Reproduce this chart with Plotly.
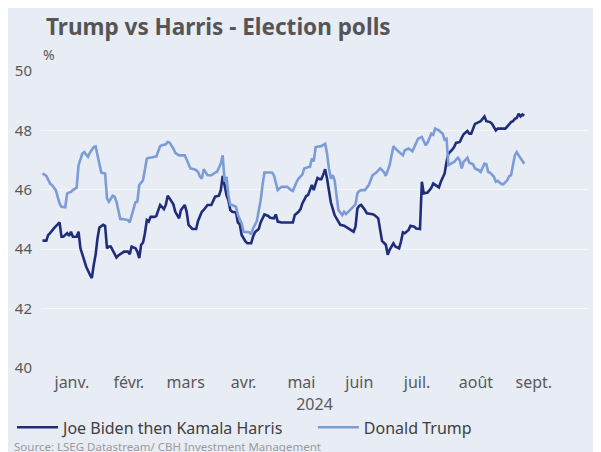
import plotly.graph_objects as go

# ---------------- data ----------------
biden_dates = [
    "2024-01-01", "2024-01-03", "2024-01-04", "2024-01-05", "2024-01-07", "2024-01-09", "2024-01-10",
    "2024-01-11", "2024-01-12", "2024-01-14", "2024-01-15", "2024-01-16", "2024-01-17", "2024-01-19",
    "2024-01-20", "2024-01-21", "2024-01-22", "2024-01-24", "2024-01-26", "2024-01-27", "2024-01-28",
    "2024-01-29", "2024-01-30", "2024-01-31", "2024-02-02", "2024-02-03", "2024-02-04", "2024-02-05",
    "2024-02-06", "2024-02-07", "2024-02-09", "2024-02-10", "2024-02-11", "2024-02-13", "2024-02-15",
    "2024-02-16", "2024-02-17", "2024-02-19", "2024-02-20", "2024-02-21", "2024-02-22", "2024-02-23",
    "2024-02-24", "2024-02-25", "2024-02-26", "2024-02-27", "2024-02-29", "2024-03-01", "2024-03-03",
    "2024-03-04", "2024-03-05", "2024-03-06", "2024-03-07", "2024-03-08", "2024-03-10", "2024-03-11",
    "2024-03-13", "2024-03-14", "2024-03-16", "2024-03-17", "2024-03-18", "2024-03-20", "2024-03-22",
    "2024-03-23", "2024-03-25", "2024-03-26", "2024-03-28", "2024-03-30", "2024-04-01", "2024-04-03",
    "2024-04-04", "2024-04-05", "2024-04-06", "2024-04-07", "2024-04-08", "2024-04-09", "2024-04-10",
    "2024-04-12", "2024-04-13", "2024-04-14", "2024-04-15", "2024-04-17", "2024-04-18", "2024-04-20",
    "2024-04-21", "2024-04-22", "2024-04-24", "2024-04-25", "2024-04-27", "2024-04-29", "2024-04-30",
    "2024-05-02", "2024-05-03", "2024-05-04", "2024-05-06", "2024-05-09", "2024-05-12", "2024-05-13",
    "2024-05-15", "2024-05-16", "2024-05-17", "2024-05-19", "2024-05-20", "2024-05-22", "2024-05-23",
    "2024-05-24", "2024-05-25", "2024-05-26", "2024-05-27", "2024-05-28", "2024-05-29", "2024-05-30",
    "2024-05-31", "2024-06-01", "2024-06-02", "2024-06-03", "2024-06-05", "2024-06-06", "2024-06-08",
    "2024-06-10", "2024-06-11", "2024-06-13", "2024-06-14", "2024-06-15", "2024-06-16", "2024-06-17",
    "2024-06-19", "2024-06-20", "2024-06-23", "2024-06-24", "2024-06-26", "2024-06-27", "2024-06-28",
    "2024-06-30", "2024-07-01", "2024-07-02", "2024-07-04", "2024-07-05", "2024-07-07", "2024-07-08",
    "2024-07-09", "2024-07-10", "2024-07-12", "2024-07-13", "2024-07-15", "2024-07-16", "2024-07-18",
    "2024-07-19", "2024-07-20", "2024-07-22", "2024-07-24", "2024-07-25", "2024-07-26", "2024-07-28",
    "2024-07-29", "2024-07-31", "2024-08-01", "2024-08-02", "2024-08-04", "2024-08-05", "2024-08-06",
    "2024-08-08", "2024-08-09", "2024-08-10", "2024-08-12", "2024-08-13", "2024-08-14", "2024-08-15",
    "2024-08-16", "2024-08-18", "2024-08-19", "2024-08-20", "2024-08-21", "2024-08-22", "2024-08-24",
    "2024-08-25", "2024-08-26", "2024-08-27", "2024-08-28", "2024-08-30", "2024-09-01", "2024-09-03",
    "2024-09-04", "2024-09-05", "2024-09-06", "2024-09-07", "2024-09-08", "2024-09-09", "2024-09-10",
    "2024-09-11",
]
biden_values = [
    44.29, 44.29, 44.48, 44.54, 44.70, 44.84, 44.90,
    44.42, 44.42, 44.54, 44.45, 44.59, 44.42, 44.42,
    44.59, 44.03, 43.81, 43.42, 43.14, 43.03, 43.47,
    43.81, 44.37, 44.73, 44.82, 44.79, 44.03, 44.09,
    44.09, 43.98, 43.72, 43.79, 43.83, 43.92, 43.92,
    43.83, 44.09, 44.03, 43.92, 43.70, 44.15, 44.22,
    44.54, 44.98, 44.93, 45.09, 45.09, 45.12, 45.49,
    45.43, 45.35, 45.49, 45.80, 45.71, 45.51, 45.26,
    45.04, 45.32, 45.49, 45.26, 44.82, 44.68, 44.68,
    44.95, 45.26, 45.32, 45.49, 45.49, 45.77, 45.80,
    45.99, 46.47, 46.10, 45.82, 45.65, 45.32, 45.26,
    45.24, 44.90, 44.84, 44.48, 44.26, 44.20, 44.20,
    44.42, 44.57, 44.68, 44.90, 45.17, 45.12, 45.06,
    45.04, 45.17, 44.93, 44.90, 44.90, 44.90, 45.15,
    45.26, 45.35, 45.54, 45.79, 45.82, 46.16, 45.99,
    46.21, 46.40, 46.36, 46.36, 46.51, 46.69, 46.38,
    45.99, 45.58, 45.37, 45.15, 44.93, 44.82, 44.79,
    44.70, 44.65, 44.59, 44.76, 45.37, 45.46, 45.49,
    45.32, 45.21, 45.18, 45.15, 45.04, 44.70, 44.28,
    44.15, 43.81, 43.98, 44.20, 44.09, 44.03, 44.26,
    44.57, 44.54, 44.65, 44.79, 44.76, 44.70, 44.68,
    46.27, 45.88, 45.91, 46.07, 46.21, 46.16, 46.08,
    46.27, 46.55, 46.94, 47.22, 47.35, 47.44, 47.58,
    47.61, 47.75, 47.87, 47.98, 47.89, 47.89, 48.06,
    48.22, 48.28, 48.31, 48.39, 48.47, 48.31, 48.28,
    48.22, 48.11, 48.00, 48.06, 48.06, 48.06, 48.20,
    48.28, 48.31, 48.39, 48.42, 48.56, 48.47, 48.54,
    48.50,
]

trump_dates = [
    "2024-01-01", "2024-01-02", "2024-01-03", "2024-01-05", "2024-01-06", "2024-01-08", "2024-01-10",
    "2024-01-11", "2024-01-13", "2024-01-14", "2024-01-16", "2024-01-17", "2024-01-19", "2024-01-20",
    "2024-01-22", "2024-01-23", "2024-01-25", "2024-01-26", "2024-01-28", "2024-01-29", "2024-01-31",
    "2024-02-01", "2024-02-03", "2024-02-04", "2024-02-05", "2024-02-07", "2024-02-08", "2024-02-09",
    "2024-02-10", "2024-02-11", "2024-02-13", "2024-02-15", "2024-02-16", "2024-02-18", "2024-02-19",
    "2024-02-20", "2024-02-21", "2024-02-23", "2024-02-25", "2024-02-26", "2024-02-27", "2024-02-29",
    "2024-03-01", "2024-03-03", "2024-03-04", "2024-03-06", "2024-03-07", "2024-03-08", "2024-03-10",
    "2024-03-11", "2024-03-13", "2024-03-16", "2024-03-17", "2024-03-19", "2024-03-21", "2024-03-22",
    "2024-03-23", "2024-03-24", "2024-03-25", "2024-03-26", "2024-03-28", "2024-03-30", "2024-04-01",
    "2024-04-02", "2024-04-04", "2024-04-05", "2024-04-06", "2024-04-07", "2024-04-08", "2024-04-09",
    "2024-04-10", "2024-04-12", "2024-04-13", "2024-04-15", "2024-04-16", "2024-04-17", "2024-04-19",
    "2024-04-20", "2024-04-21", "2024-04-23", "2024-04-24", "2024-04-25", "2024-04-26", "2024-04-27",
    "2024-04-29", "2024-05-01", "2024-05-02", "2024-05-04", "2024-05-06", "2024-05-09", "2024-05-11",
    "2024-05-12", "2024-05-14", "2024-05-15", "2024-05-17", "2024-05-18", "2024-05-20", "2024-05-21",
    "2024-05-22", "2024-05-23", "2024-05-24", "2024-05-26", "2024-05-27", "2024-05-29", "2024-05-30",
    "2024-05-31", "2024-06-01", "2024-06-02", "2024-06-03", "2024-06-04", "2024-06-05", "2024-06-07",
    "2024-06-08", "2024-06-09", "2024-06-11", "2024-06-13", "2024-06-14", "2024-06-15", "2024-06-16",
    "2024-06-17", "2024-06-19", "2024-06-21", "2024-06-23", "2024-06-25", "2024-06-27", "2024-06-29",
    "2024-06-30", "2024-07-02", "2024-07-04", "2024-07-05", "2024-07-07", "2024-07-09", "2024-07-10",
    "2024-07-12", "2024-07-14", "2024-07-16", "2024-07-17", "2024-07-19", "2024-07-21", "2024-07-22",
    "2024-07-24", "2024-07-25", "2024-07-26", "2024-07-28", "2024-07-30", "2024-07-31", "2024-08-01",
    "2024-08-02", "2024-08-03", "2024-08-05", "2024-08-07", "2024-08-08", "2024-08-09", "2024-08-10",
    "2024-08-12", "2024-08-13", "2024-08-15", "2024-08-16", "2024-08-18", "2024-08-19", "2024-08-21",
    "2024-08-22", "2024-08-23", "2024-08-24", "2024-08-26", "2024-08-27", "2024-08-28", "2024-08-30",
    "2024-08-31", "2024-09-02", "2024-09-03", "2024-09-04", "2024-09-06", "2024-09-07", "2024-09-08",
    "2024-09-10", "2024-09-11",
]
trump_values = [
    46.55, 46.50, 46.47, 46.21, 46.16, 45.99, 45.54,
    45.43, 45.41, 45.88, 45.93, 45.99, 46.07, 46.83,
    47.22, 47.27, 47.11, 47.25, 47.44, 47.46, 46.94,
    46.58, 46.55, 45.71, 45.60, 45.80, 45.77, 45.60,
    45.30, 45.02, 45.01, 44.98, 44.90, 45.37, 45.58,
    45.60, 46.16, 46.32, 47.05, 47.08, 47.08, 47.11,
    47.12, 47.47, 47.50, 47.53, 47.61, 47.59, 47.39,
    47.24, 47.16, 47.16, 47.02, 46.72, 46.69, 46.66,
    46.60, 46.45, 46.38, 46.69, 46.49, 46.49, 46.58,
    46.60, 46.88, 47.16, 46.27, 46.44, 45.82, 45.49,
    45.49, 45.43, 45.15, 44.87, 44.59, 44.59, 44.57,
    44.50, 44.70, 44.95, 45.26, 45.65, 46.16, 46.58,
    46.58, 46.58, 46.49, 45.99, 46.10, 46.10, 45.99,
    45.96, 46.27, 46.38, 46.51, 46.72, 46.77, 46.77,
    47.05, 46.96, 47.44, 47.47, 47.47, 47.55, 47.22,
    46.72, 46.38, 46.49, 46.32, 45.82, 45.32, 45.15,
    45.26, 45.18, 45.32, 45.43, 45.51, 45.88, 45.96,
    45.99, 45.99, 46.16, 46.49, 46.58, 46.72, 46.60,
    46.47, 46.83, 47.47, 47.39, 47.27, 47.16, 47.33,
    47.39, 47.30, 47.55, 47.72, 47.78, 47.50, 47.59,
    47.89, 47.85, 48.06, 48.00, 47.89, 47.69, 47.72,
    46.83, 46.86, 46.94, 47.08, 46.99, 46.72, 46.94,
    47.08, 46.91, 46.86, 46.72, 46.66, 46.60, 46.88,
    46.86, 46.60, 46.57, 46.44, 46.27, 46.30, 46.19,
    46.19, 46.32, 46.46, 46.49, 47.16, 47.27, 47.16,
    46.99, 46.88,
]

month_ticks = ["2024-01-16 12:00", "2024-02-15 12:00", "2024-03-16 12:00", "2024-04-16",
               "2024-05-16 12:00", "2024-06-16", "2024-07-16 12:00", "2024-08-16 12:00", "2024-09-16"]
month_labels = ["janv.", "févr.", "mars", "avr.", "mai", "juin", "juil.", "août", "sept."]

series_names = ["Joe Biden then Kamala Harris", "Donald Trump"]

# ---------------- figure ----------------
FONT = "Noto Sans"
BG = "#E8ECF5"

fig = go.Figure()
fig.add_trace(go.Scatter(x=biden_dates, y=biden_values, mode="lines", name=series_names[0],
                         line=dict(color="#1F2D7B", width=2.6), legend="legend"))
fig.add_trace(go.Scatter(x=trump_dates, y=trump_values, mode="lines", name=series_names[1],
                         line=dict(color="#7C9CD6", width=2.6), legend="legend2"))

legend_common = dict(orientation="h", xanchor="left", y=-0.2, yanchor="middle",
                     font=dict(family=FONT, size=16, color="#404040"), bgcolor="rgba(0,0,0,0)",
                     itemwidth=41)

fig.update_layout(
    width=601, height=452,
    paper_bgcolor=BG, plot_bgcolor=BG,
    margin=dict(l=33, r=21, t=62.5, b=91.5, autoexpand=False),
    font=dict(family=FONT, color="#595959"),
    title=dict(text="<b>Trump vs Harris - Election polls</b>", xref="container", x=38 / 601,
               xanchor="left", yref="container", y=1 - 19 / 452, yanchor="middle",
               font=dict(family=FONT, size=22.5, color="#555555")),
    showlegend=True,
    legend=dict(x=-0.053, **legend_common),
    legend2=dict(x=0.497, **legend_common),
    hovermode=False,
)
fig.update_xaxes(
    type="date", range=["2023-12-31 05:00", "2024-10-14 14:00"], automargin=False,
    tickmode="array", tickvals=month_ticks, ticktext=month_labels,
    showgrid=False, zeroline=False, showline=False, ticks="",
    tickfont=dict(size=16, color="#595959"), ticklabelstandoff=3,
    title=dict(text="2024", font=dict(size=16, color="#595959"), standoff=4),
)
fig.update_yaxes(
    range=[40, 50], dtick=2, tick0=40, automargin=False,
    showgrid=True, gridcolor="#F6F7FB", gridwidth=1, zeroline=False, showline=False, ticks="",
    tickfont=dict(size=15, color="#595959"), ticklabelstandoff=8,
)
fig.add_annotation(text="%", xref="paper", yref="paper", x=0, y=1, xanchor="left", yanchor="bottom",
                   xshift=0, yshift=5, showarrow=False, font=dict(family=FONT, size=14, color="#595959"))
fig.add_annotation(text="Source: LSEG Datastream/ CBH Investment Management", xref="paper", yref="paper",
                   x=-0.053, y=-0.263, xanchor="left", yanchor="middle", showarrow=False,
                   font=dict(family=FONT, size=11.5, color="#9A9A9A"))

fig.write_html("out.html")
